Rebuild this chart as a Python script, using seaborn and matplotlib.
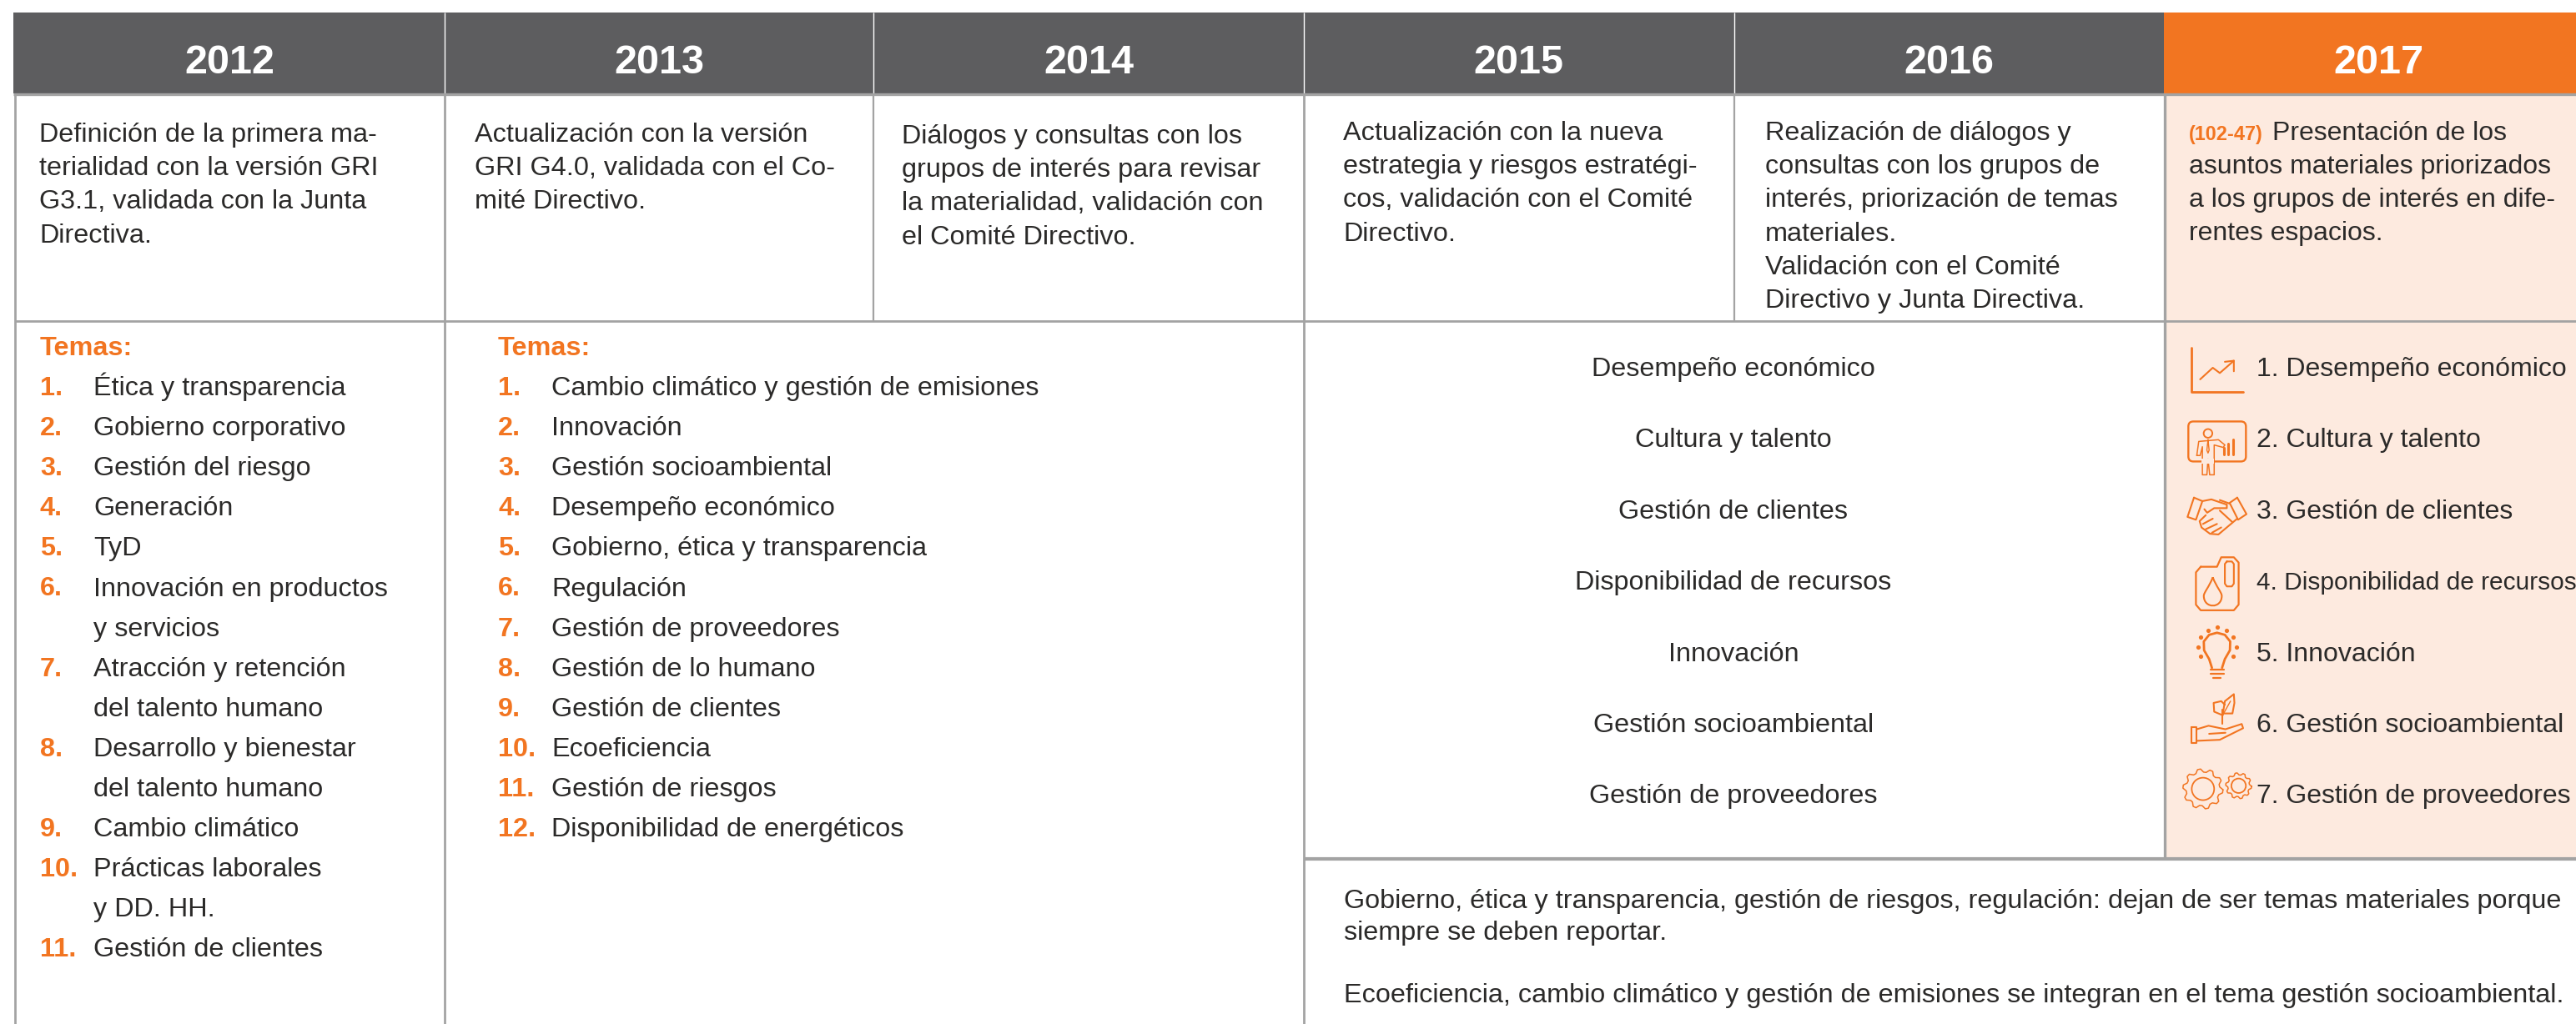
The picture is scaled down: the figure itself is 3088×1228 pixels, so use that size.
import numpy as np
import pandas as pd
import seaborn as sns
import matplotlib
matplotlib.use("Agg")
import matplotlib.pyplot as plt
from matplotlib.colors import ListedColormap
from matplotlib.patches import FancyBboxPatch, Circle, PathPatch, Rectangle
from matplotlib.path import Path

# ---------- content ----------
years = ["2012", "2013", "2014", "2015", "2016", "2017"]
intro_2012 = ["Definición de la primera ma-", "terialidad con la versión GRI", "G3.1, validada con la Junta", "Directiva."]
intro_2013 = ["Actualización con la versión", "GRI G4.0, validada con el Co-", "mité Directivo."]
intro_2014 = ["Diálogos y consultas con los", "grupos de interés para revisar", "la materialidad, validación con", "el Comité Directivo."]
intro_2015 = ["Actualización con la nueva", "estrategia y riesgos estratégi-", "cos, validación con el Comité", "Directivo."]
intro_2016 = ["Realización de diálogos y", "consultas con los grupos de", "interés, priorización de temas", "materiales.", "Validación con el Comité", "Directivo y Junta Directiva."]
intro_2017_tag = "(102-47)"
intro_2017 = ["Presentación de los", "asuntos materiales priorizados", "a los grupos de interés en dife-", "rentes espacios."]
temas_label = "Temas:"
temas_2012 = ["Ética y transparencia", "Gobierno corporativo", "Gestión del riesgo", "Generación", "TyD",
              "Innovación en productos\ny servicios", "Atracción y retención\ndel talento humano",
              "Desarrollo y bienestar\ndel talento humano", "Cambio climático",
              "Prácticas laborales\ny DD. HH.", "Gestión de clientes"]
temas_2013 = ["Cambio climático y gestión de emisiones", "Innovación", "Gestión socioambiental",
              "Desempeño económico", "Gobierno, ética y transparencia", "Regulación", "Gestión de proveedores",
              "Gestión de lo humano", "Gestión de clientes", "Ecoeficiencia", "Gestión de riesgos",
              "Disponibilidad de energéticos"]
temas_2015_16 = ["Desempeño económico", "Cultura y talento", "Gestión de clientes", "Disponibilidad de recursos",
                 "Innovación", "Gestión socioambiental", "Gestión de proveedores"]
nota_1 = ["Gobierno, ética y transparencia, gestión de riesgos, regulación: dejan de ser temas materiales porque",
          "siempre se deben reportar."]
nota_2 = ["Ecoeficiencia, cambio climático y gestión de emisiones se integran en el tema gestión socioambiental."]

# ---------- style ----------
sns.set_theme(style="white")
FONT = ["Liberation Sans", "DejaVu Sans"]
plt.rcParams["font.family"] = FONT
GRAY, ORANGE, PEACH, LINE, INK = "#5d5d5f", "#f27521", "#fdeadf", "#a3a3a3", "#2b2a29"
W, H = 3088, 1228
BODY = 23.3
BODY17 = 23.0
BODY17_LONG = 21.5
fig = plt.figure(figsize=(W / 100, H / 100), dpi=100, facecolor="white")

# header band, as a heatmap of one row
left, top, bottom = 16, 15, 112
hax = fig.add_axes([left / W, 1 - bottom / H, (W - left) / W, (bottom - top) / H])
head = pd.DataFrame([[0, 0, 0, 0, 0, 1]], columns=years)
sns.heatmap(head, ax=hax, cmap=ListedColormap([GRAY, ORANGE]), cbar=False, xticklabels=False, yticklabels=False,
            annot=np.array([years]), fmt="", annot_kws=dict(color="white", fontsize=35, fontweight="bold", family=FONT))
hax.set_xlim(0, (W - left) / 515.6)
for t in hax.texts:
    t.set_va("baseline")
    t.set_y(0.755)
hax.texts[0].set_x(0.5 + 2 / 515.6)
hax.texts[1].set_x(1.5 + 1 / 515.6)

# drawing layer in pixel units
ax = fig.add_axes([0, 0, 1, 1], facecolor="none")
ax.set_xlim(0, W)
ax.set_ylim(H, 0)
ax.axis("off")
ax.add_patch(Rectangle((2594, 112), W - 2594, 1030 - 112, fc=PEACH, ec="none", zorder=0))

col = [533, 1047, 1563, 2079, 2595]
LW = 2.0
ax.vlines([col[0], col[1], col[2], col[3]], top, 112, color="white", lw=1.0, zorder=2)
ax.hlines(113, left, W, color=LINE, lw=LW + 0.4)
ax.hlines(385, 18, W, color=LINE, lw=LW)
ax.hlines(1030, col[2], W, color=LINE, lw=LW + 1)
ax.vlines(18, 113, H, color=LINE, lw=LW)
ax.vlines(col[0], 113, H, color=LINE, lw=LW)
ax.vlines(col[1], 113, 385, color=LINE, lw=LW - 0.4)
ax.vlines(col[2], 113, H, color=LINE, lw=LW)
ax.vlines(col[3], 113, 385, color=LINE, lw=LW - 0.4)
ax.vlines(col[4], 113, 1030, color=LINE, lw=LW + 0.4)


def txt(x, y, s, color=INK, size=BODY, weight="normal", ha="left"):
    ax.text(x, y, s, color=color, fontsize=size, fontweight=weight, ha=ha, va="baseline", family=FONT)


def block(x, y, lines, step=40.2, size=BODY):
    for i, s in enumerate(lines):
        txt(x, y + i * step, s, size=size)


block(47, 170, intro_2012)
block(569, 170, intro_2013)
block(1081, 172, intro_2014)
block(1610, 168, intro_2015)
block(2116, 168, intro_2016)
block(2724, 168, intro_2017[:1], size=BODY17)
block(2624, 208, intro_2017[1:], size=BODY17)
txt(2624, 168, intro_2017_tag, color=ORANGE, size=16.9, weight="bold")


def temas(x_num, x_txt, items):
    txt(x_num, 426, temas_label, color=ORANGE, weight="bold")
    row = 0
    for n, item in enumerate(items, 1):
        txt(x_num, 474 + row * 48.1, f"{n}.", color=ORANGE, weight="bold")
        for part in item.split("\n"):
            txt(x_txt, 474 + row * 48.1, part)
            row += 1


temas(48, 112, temas_2012)
temas(597, 661, temas_2013)

for i, s in enumerate(temas_2015_16):
    txt(2078, 451 + i * 85.4, s, ha="center")
    txt(2705, 451 + i * 85.4, f"{i + 1}. {s}", size=BODY17_LONG if len(s) > 24 else BODY17)

block(1611, 1089, nota_1, step=38)
block(1611, 1202, nota_2)


# ---------- small line icons (coordinates in a local icon grid) ----------
def Z(pts):
    a = np.asarray(pts, float)
    return 2560 + a[:, 0] / 2.97, 380 + a[:, 1] / 2.376


def L(pts, lw=1.5, closed=False):
    pts = list(pts) + ([pts[0]] if closed else [])
    x, y = Z(pts)
    ax.plot(x, y, color=ORANGE, lw=lw, solid_capstyle="round", solid_joinstyle="round", zorder=4)


def ring(cx, cy, r):
    x, y = Z([(cx, cy)])
    ax.add_patch(Circle((x[0], y[0]), r, fc="none", ec=ORANGE, lw=1.4, zorder=4))


# 1 chart
L([(198, 88), (198, 213), (383, 213)], lw=2)
L([(230, 178), (275, 145), (300, 160), (350, 125)])
L([(318, 128), (350, 125), (350, 155)])
# 2 presenter
x0, y0 = Z([(188, 298)])
x1, y1 = Z([(393, 412)])
ax.add_patch(FancyBboxPatch((x0[0] + 4, y0[0] + 4), x1[0] - x0[0] - 8, y1[0] - y0[0] - 8,
                            boxstyle="round,pad=4,rounding_size=6", fc="none", ec=ORANGE, lw=1.7, zorder=4))
ax.add_patch(Rectangle((Z([(236, 405)])[0][0], Z([(236, 405)])[1][0]), 15, 6, fc=PEACH, ec="none", zorder=4.5))
ring(258, 332, 5.2)
L([(218, 395), (225, 355), (295, 350), (318, 365), (312, 372), (280, 365), (280, 400), (280, 450), (264, 450),
   (258, 405), (254, 450), (238, 450), (238, 400), (238, 370), (230, 395), (218, 395)], lw=1.1)
L([(258, 350), (254, 380), (258, 388), (262, 380), (258, 350)], lw=1)
for bx, by in [(315, 372), (331, 362), (347, 350)]:
    L([(bx, 393), (bx, by)], lw=2.2)
# 3 handshake
L([(208, 515), (238, 525), (215, 578), (185, 570)], closed=True)
L([(362, 515), (395, 562), (365, 578), (335, 530)], closed=True)
L([(238, 525), (270, 520), (325, 535), (325, 545), (280, 545), (255, 558), (245, 548)])
L([(335, 532), (300, 522)])
L([(362, 575), (295, 620), (265, 618), (235, 600), (228, 582), (250, 565)])
L([(240, 590), (275, 575)])
L([(250, 605), (290, 590)])
L([(272, 615), (305, 600)])
L([(300, 552), (345, 585)])
# 4 canister
L([(232, 712), (290, 712), (305, 685), (350, 685), (367, 700), (367, 820), (350, 836), (232, 836), (215, 820),
   (215, 728)], closed=True, lw=1.6)
L([(325, 697), (343, 697), (350, 704), (350, 760), (343, 768), (325, 768), (318, 760), (318, 704)], closed=True)
dx, dy = Z([(275, 742), (262, 770), (243, 785), (243, 795), (243, 832), (307, 832), (307, 795), (307, 785), (288, 770), (275, 742)])
ax.add_patch(PathPatch(Path(list(zip(dx, dy)), [Path.MOVETO] + [Path.CURVE4] * 9),
                       fc="none", ec=ORANGE, lw=1.5, zorder=4))
# 5 bulb
L([(272, 1000), (262, 975), (244, 950), (243, 925), (262, 906), (290, 900), (318, 906), (337, 925), (336, 950),
   (318, 975), (308, 1000)], lw=2)
for yy, a, b in [(1006, 266, 314), (1016, 266, 314), (1028, 276, 304)]:
    L([(a, yy), (b, yy)], lw=1.6)
ox, oy = Z([(290, 885), (258, 893), (323, 893), (233, 912), (347, 912), (224, 940), (358, 940), (233, 967), (347, 967)])
ax.scatter(ox, oy, s=14, color=ORANGE, linewidths=0, zorder=4)
# 6 hand and plant
L([(198, 1170), (218, 1170), (218, 1213), (198, 1213)], closed=True)
L([(218, 1175), (260, 1165), (320, 1175), (378, 1160), (383, 1172), (300, 1205), (218, 1208)])
L([(262, 1188), (320, 1185)])
L([(310, 1160), (310, 1120)])
L([(310, 1135), (280, 1125), (278, 1100), (305, 1095), (318, 1105)])
L([(315, 1130), (345, 1130), (352, 1100), (350, 1075), (318, 1095), (310, 1135)])
L([(310, 1135), (338, 1095)], lw=1)
# 7 gears


def gear(cx, cy, r, teeth):
    th = np.linspace(0, 2 * np.pi, teeth * 4 + 1)
    rad = r * np.array([1, 1, 0.84, 0.84] * teeth + [1])
    th = th + np.pi / (8 * teeth)
    x = cx + rad * np.cos(th)
    y = cy + rad * np.sin(th)
    ax.plot(x, y, color=ORANGE, lw=1.1, zorder=4)
    ax.add_patch(Circle((cx, cy), r * 0.56, fc="none", ec=ORANGE, lw=1.3, zorder=4))


gear(*[v[0] for v in Z([(240, 1345)])], 24, 10)
gear(*[v[0] for v in Z([(367, 1336)])], 15.5, 10)

fig.savefig("out.png", dpi=100, facecolor="white")
